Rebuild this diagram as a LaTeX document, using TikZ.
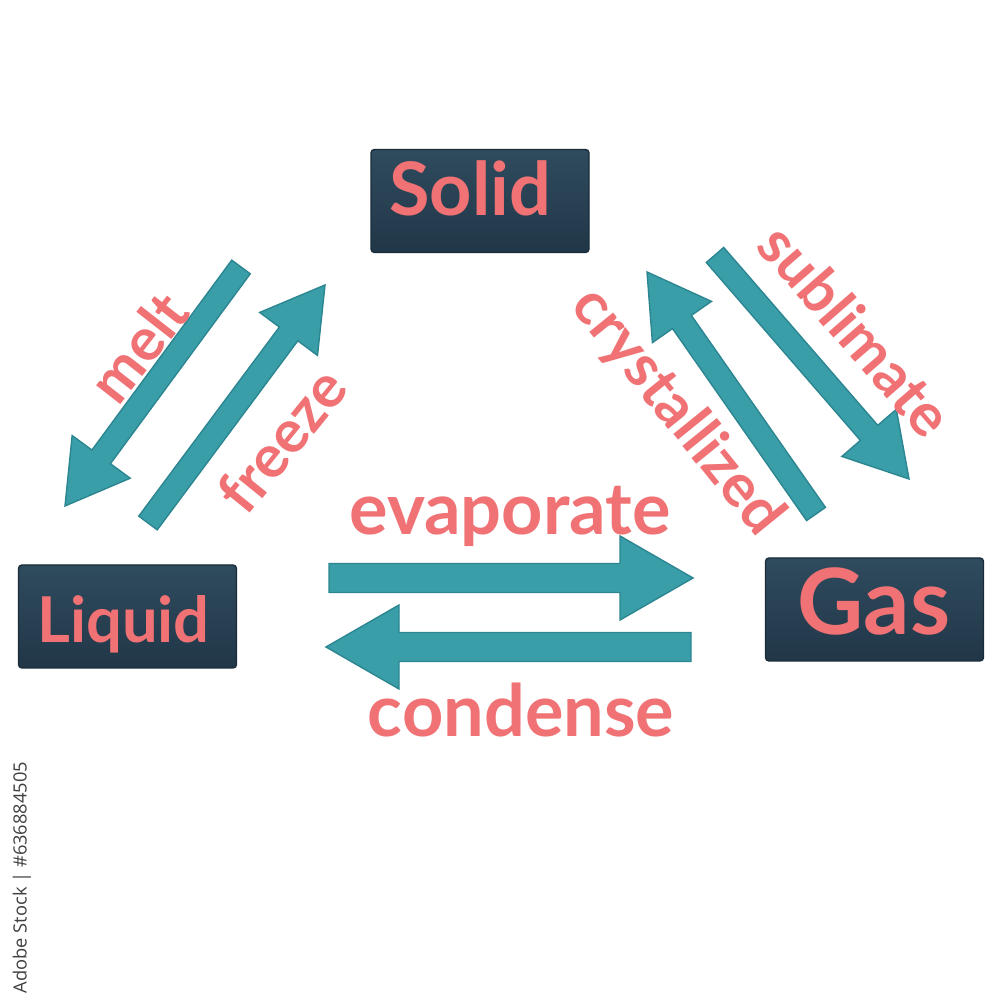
\documentclass[tikz,border=0pt]{standalone}
\usepackage{fontspec}
\setmainfont{Lato}
\newfontfamily\stockfont{Open Sans}
\usetikzlibrary{calc}
\definecolor{boxtop}{HTML}{2F4B5E}
\definecolor{boxbot}{HTML}{213748}
\definecolor{salmon}{HTML}{F07274}
\definecolor{teal1}{HTML}{3A9EA9}
\definecolor{teal2}{HTML}{2C8691}
\tikzset{
  statebox/.style={minimum width=2.18cm, minimum height=1.03cm, inner sep=0pt,
    top color=boxtop, bottom color=boxbot, draw=boxbot!80!black, line width=0.4pt, rounded corners=1pt},
  boxtext/.style={text=salmon, font=\bfseries, inner sep=0pt},
  arrowlabel/.style={text=salmon, font=\bfseries\fontsize{17}{17}\selectfont, inner sep=0pt},
  hlabel/.style={text=salmon, font=\bfseries\fontsize{20.5}{20.5}\selectfont, inner sep=0pt, anchor=base},
  arrowfill/.style={fill=teal1, draw=teal2, line width=0.4pt, line join=miter}
}
% #1 tail, #2 tip, #3 half shaft width, #4 head length, #5 half head width
\newcommand{\fatarrow}[5]{%
  \coordinate (#1-hb) at ($(#2)!#4!(#1)$);
  \filldraw[arrowfill] ($(#1)!#3!90:(#2)$) -- ($(#1-hb)!#3!90:(#2)$) -- ($(#1-hb)!#5!90:(#2)$)
    -- (#2) -- ($(#1-hb)!#5!-90:(#2)$) -- ($(#1-hb)!#3!-90:(#2)$) -- ($(#1)!#3!-90:(#2)$) -- cycle;
}
\begin{document}
\begin{tikzpicture}
\useasboundingbox[fill=white] (0,0) rectangle (10,10);
% state boxes
\node[statebox] (solid) at (4.80,7.99) {};
\node[statebox] (liquid) at (1.275,3.835) {};
\node[statebox] (gas) at (8.745,3.905) {};
\node[boxtext, anchor=base, font=\bfseries\fontsize{21}{21}\selectfont] (solid-t) at (4.70,7.84) {Solid};
\node[boxtext, anchor=base, font=\bfseries\fontsize{18}{18}\selectfont] (liquid-t) at (1.235,3.57) {Liquid};
\node[boxtext, anchor=base, font=\bfseries\fontsize{26}{26}\selectfont] (gas-t) at (8.74,3.65) {Gas};
% arrow end points
\coordinate (melt-a) at (2.41,7.33);  \coordinate (melt-b) at (0.65,4.94);
\coordinate (frz-a) at (1.48,4.77);   \coordinate (frz-b) at (3.25,7.15);
\coordinate (cry-a) at (8.16,4.86);   \coordinate (cry-b) at (6.47,7.28);
\coordinate (sub-a) at (7.15,7.45);   \coordinate (sub-b) at (9.09,5.21);
\coordinate (eva-a) at (3.29,4.22);   \coordinate (eva-b) at (6.93,4.22);
\coordinate (con-a) at (6.91,3.53);   \coordinate (con-b) at (3.26,3.53);
\fatarrow{melt-a}{melt-b}{0.115cm}{0.61cm}{0.36cm}
\fatarrow{frz-a}{frz-b}{0.115cm}{0.61cm}{0.36cm}
\fatarrow{cry-a}{cry-b}{0.115cm}{0.61cm}{0.36cm}
\fatarrow{sub-a}{sub-b}{0.115cm}{0.61cm}{0.36cm}
\fatarrow{eva-a}{eva-b}{0.145cm}{0.73cm}{0.42cm}
\fatarrow{con-a}{con-b}{0.145cm}{0.73cm}{0.42cm}
% labels
\node[arrowlabel, rotate=52] (melt-l) at (1.38,6.53) {melt};
\node[arrowlabel, rotate=51] (frz-l) at (2.82,5.60) {freeze};
\node[arrowlabel, rotate=-51] (cry-l) at (6.77,5.88) {crystallized};
\node[arrowlabel, rotate=-49] (sub-l) at (8.56,6.70) {sublimate};
\node[hlabel] (eva-l) at (5.10,4.65) {evaporate};
\node[hlabel] (con-l) at (5.21,2.63) {condense};
% stock id
\node[rotate=90, text=black!75, font=\stockfont\fontsize{5.2}{5.2}\selectfont, inner sep=0pt] (stock) at (0.22,1.225) {Adobe Stock | \#636884505};
\end{tikzpicture}
\end{document}
